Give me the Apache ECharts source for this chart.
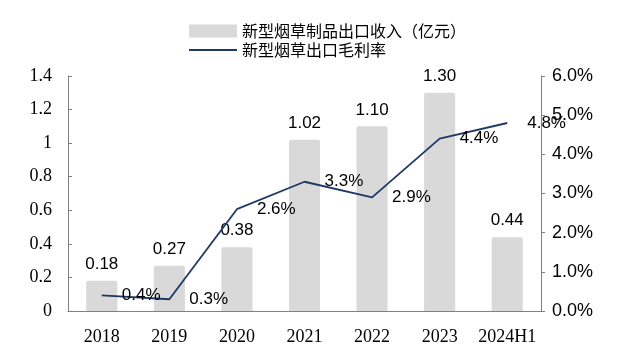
<!DOCTYPE html>
<html><head><meta charset="utf-8">
<script src="https://cdn.jsdelivr.net/npm/echarts@6/dist/echarts.min.js"></script>
<style>html,body{margin:0;padding:0;background:#fff}#c{width:640px;height:361px}</style>
</head><body><div id="c"></div>
<script>
const categories = ['2018','2019','2020','2021','2022','2023','2024H1'];
const revenue = [0.18, 0.27, 0.38, 1.02, 1.10, 1.30, 0.44];
const margin = [0.4, 0.3, 2.6, 3.3, 2.9, 4.4, 4.8];
const leftTicks = [0, 0.2, 0.4, 0.6, 0.8, 1, 1.2, 1.4];
const rightTicks = ['0.0%','1.0%','2.0%','3.0%','4.0%','5.0%','6.0%'];
const names = ['新型烟草制品出口收入（亿元）', '新型烟草出口毛利率'];

const chart = echarts.init(document.getElementById('c'));
const axisCol = '#808080';
chart.setOption({
  animation: false,
  legend: {
    orient: 'vertical', left: 184, top: 18, itemGap: 3,
    itemWidth: 48, itemHeight: 13,
    textStyle: {fontFamily: 'Noto Sans CJK SC', fontSize: 16, color: '#000'},
    data: [
      {name: names[0], icon: 'rect', itemStyle: {color: '#d9d9d9'}},
      {name: names[1], icon: 'path://M0,0 L48,0 L48,2 L0,2 Z', itemStyle: {color: '#1f3864'}}
    ]
  },
  grid: {left: 68, right: 99, top: 76, bottom: 50},
  xAxis: {
    type: 'category', data: categories,
    axisLine: {lineStyle: {color: axisCol}},
    axisTick: {inside: true, length: 5, lineStyle: {color: axisCol}},
    axisLabel: {interval: 0, fontFamily: 'Liberation Serif', fontSize: 18, color: '#000', margin: 17}
  },
  yAxis: [
    {
      type: 'value', min: 0, max: 1.4, interval: 0.2,
      splitLine: {show: false},
      axisLine: {show: true, lineStyle: {color: axisCol}},
      axisTick: {show: true, inside: true, length: 4, lineStyle: {color: axisCol}},
      axisLabel: {fontFamily: 'Liberation Serif', fontSize: 18, color: '#000', margin: 16,
        formatter: v => { const i = leftTicks.findIndex(t => Math.abs(t - v) < 1e-6); return i >= 0 ? String(leftTicks[i]) : ''; }}
    },
    {
      type: 'value', min: 0, max: 6, interval: 1, position: 'right',
      splitLine: {show: false},
      axisLine: {show: true, lineStyle: {color: axisCol}},
      axisTick: {show: true, length: 4, lineStyle: {color: axisCol}},
      axisLabel: {fontFamily: 'Liberation Sans', fontSize: 18, color: '#000', margin: 11,
        formatter: v => rightTicks[Math.round(v)] || ''}
    }
  ],
  series: [
    {
      name: names[0], type: 'bar', data: revenue, barWidth: '46%',
      itemStyle: {color: '#d9d9d9', borderRadius: [2, 2, 0, 0]},
      label: {show: true, position: 'top', distance: 8, fontFamily: 'Liberation Sans', fontSize: 17, color: '#000',
        formatter: p => p.value.toFixed(2)}
    },
    {
      name: names[1], type: 'line', yAxisIndex: 1, data: margin,
      symbol: 'circle', symbolSize: 0, showSymbol: true,
      lineStyle: {color: '#1f3864', width: 1.8}, itemStyle: {color: '#1f3864'},
      label: {show: true, position: 'right', distance: 20, fontFamily: 'Liberation Sans', fontSize: 17, color: '#000',
        formatter: p => p.value.toFixed(1) + '%'}
    }
  ]
});
</script></body></html>
